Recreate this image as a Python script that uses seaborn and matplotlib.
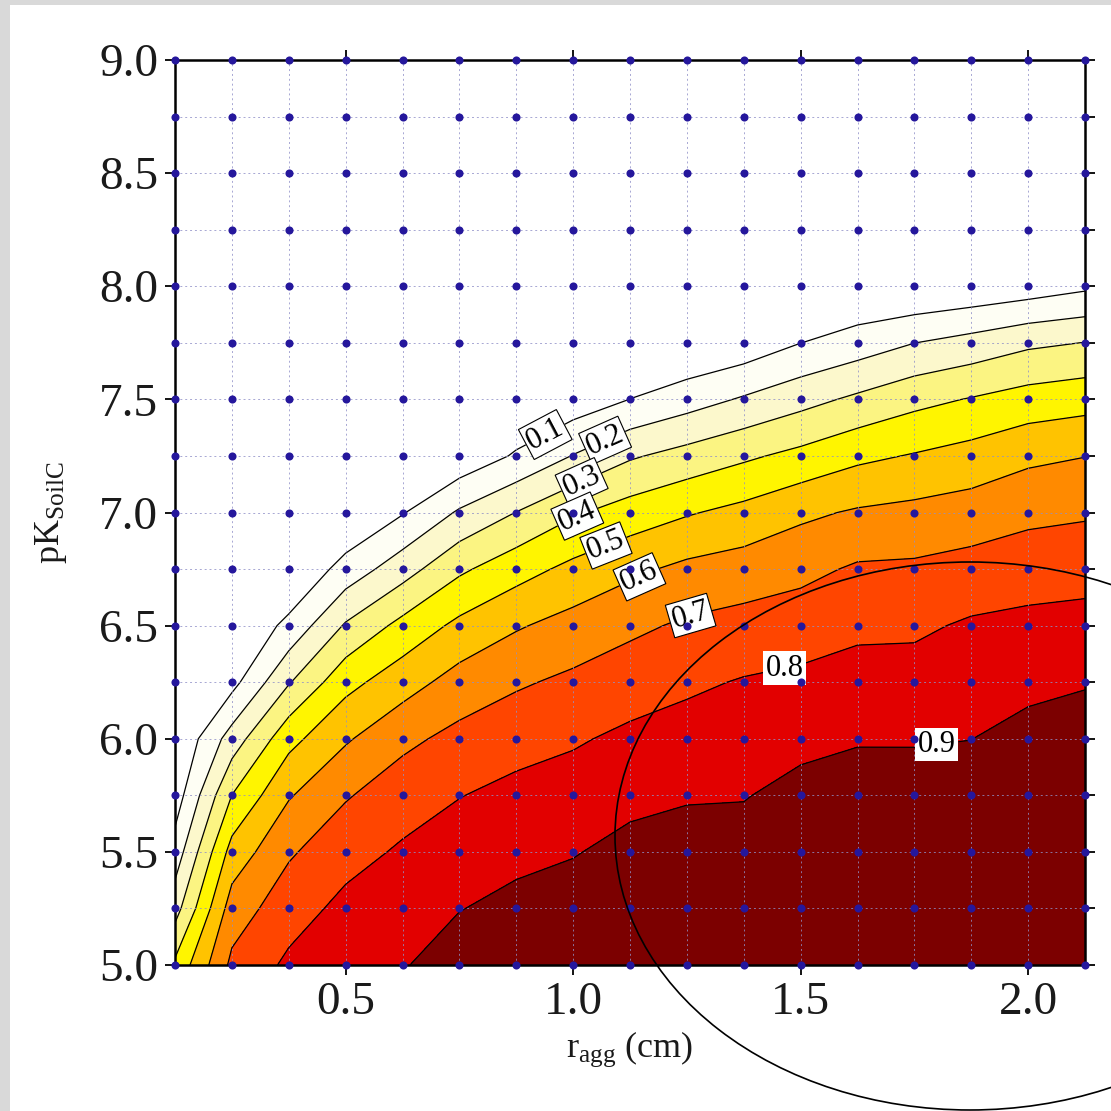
import numpy as np
import matplotlib
matplotlib.use("Agg")
import matplotlib.pyplot as plt
import seaborn as sns
from matplotlib.patches import Ellipse, Rectangle

# ---------------- data ----------------
r_agg = [0.125, 0.25, 0.375, 0.5, 0.625, 0.75, 0.875, 1.0, 1.125,
         1.25, 1.375, 1.5, 1.625, 1.75, 1.875, 2.0, 2.125]
pk_soilc = [5.0, 5.25, 5.5, 5.75, 6.0, 6.25, 6.5, 6.75, 7.0,
            7.25, 7.5, 7.75, 8.0, 8.25, 8.5, 8.75, 9.0]

# value at each grid point, one list per r_agg column, from pK=5.0 up to 9.0
frac_r0125 = [0.420, 0.259, 0.142, 0.047, 0.0, 0.0, 0.0, 0.0, 0.0, 0.0, 0.0, 0.0, 0.0, 0.0, 0.0, 0.0, 0.0]
frac_r0250 = [0.723, 0.647, 0.538, 0.401, 0.244, 0.067, 0.0, 0.0, 0.0, 0.0, 0.0, 0.0, 0.0, 0.0, 0.0, 0.0, 0.0]
frac_r0375 = [0.819, 0.757, 0.687, 0.591, 0.468, 0.292, 0.126, 0.0, 0.0, 0.0, 0.0, 0.0, 0.0, 0.0, 0.0, 0.0, 0.0]
frac_r0500 = [0.877, 0.826, 0.765, 0.691, 0.588, 0.468, 0.311, 0.139, 0.0, 0.0, 0.0, 0.0, 0.0, 0.0, 0.0, 0.0, 0.0]
frac_r0625 = [0.893, 0.853, 0.813, 0.755, 0.676, 0.557, 0.430, 0.256, 0.093, 0.0, 0.0, 0.0, 0.0, 0.0, 0.0, 0.0, 0.0]
frac_r0750 = [0.946, 0.897, 0.847, 0.797, 0.729, 0.640, 0.524, 0.382, 0.213, 0.027, 0.0, 0.0, 0.0, 0.0, 0.0, 0.0, 0.0]
frac_r0875 = [0.974, 0.925, 0.876, 0.826, 0.765, 0.687, 0.590, 0.460, 0.302, 0.112, 0.0, 0.0, 0.0, 0.0, 0.0, 0.0, 0.0]
frac_r1000 = [0.997, 0.946, 0.894, 0.843, 0.789, 0.721, 0.636, 0.526, 0.387, 0.204, 0.041, 0.0, 0.0, 0.0, 0.0, 0.0, 0.0]
frac_r1125 = [1.0, 0.983, 0.929, 0.874, 0.820, 0.755, 0.679, 0.579, 0.444, 0.288, 0.101, 0.0, 0.0, 0.0, 0.0, 0.0, 0.0]
frac_r1250 = [1.0, 0.995, 0.943, 0.891, 0.839, 0.783, 0.715, 0.623, 0.491, 0.336, 0.155, 0.0, 0.0, 0.0, 0.0, 0.0, 0.0]
frac_r1375 = [1.0, 0.982, 0.939, 0.895, 0.851, 0.807, 0.735, 0.646, 0.529, 0.383, 0.211, 0.034, 0.0, 0.0, 0.0, 0.0, 0.0]
frac_r1500 = [1.0, 1.0, 0.983, 0.929, 0.875, 0.821, 0.753, 0.673, 0.580, 0.427, 0.266, 0.099, 0.0, 0.0, 0.0, 0.0, 0.0]
frac_r1625 = [1.0, 1.0, 1.0, 0.946, 0.892, 0.838, 0.780, 0.713, 0.611, 0.478, 0.319, 0.146, 0.0, 0.0, 0.0, 0.0, 0.0]
frac_r1750 = [1.0, 1.0, 0.998, 0.945, 0.892, 0.839, 0.783, 0.717, 0.627, 0.507, 0.371, 0.199, 0.0, 0.0, 0.0, 0.0, 0.0]
frac_r1875 = [1.0, 1.0, 0.985, 0.942, 0.899, 0.856, 0.813, 0.736, 0.646, 0.537, 0.406, 0.236, 0.020, 0.0, 0.0, 0.0, 0.0]
frac_r2000 = [1.0, 1.0, 1.0, 0.983, 0.930, 0.877, 0.824, 0.757, 0.675, 0.579, 0.441, 0.281, 0.045, 0.0, 0.0, 0.0, 0.0]
frac_r2125 = [1.0, 1.0, 1.0, 1.0, 0.951, 0.892, 0.832, 0.765, 0.688, 0.598, 0.461, 0.302, 0.081, 0.0, 0.0, 0.0, 0.0]

line_levels = [0.1, 0.2, 0.3, 0.4, 0.5, 0.6, 0.7, 0.8, 0.9]
fill_levels = [0.0, 0.1, 0.2, 0.3, 0.4, 0.5, 0.6, 0.7, 0.8, 0.9, 1.01]
band_colors = ['#ffffff', '#fefef4', '#fcf8cc', '#fbf482', '#fff500',
               '#ffc300', '#ff8a00', '#ff4500', '#e20000', '#7c0000']
# approximate label spots (r_agg, pK)
label_x = [0.94, 1.07, 1.02, 1.01, 1.075, 1.147, 1.257, 1.46, 1.80]
label_y = [7.34, 7.32, 7.13, 6.98, 6.84, 6.71, 6.556, 6.36, 5.96]

x_ticks = [0.5, 1.0, 1.5, 2.0]
x_tick_labels = ['0.5', '1.0', '1.5', '2.0']
y_ticks = [5.0, 5.5, 6.0, 6.5, 7.0, 7.5, 8.0, 8.5, 9.0]
y_tick_labels = ['5.0', '5.5', '6.0', '6.5', '7.0', '7.5', '8.0', '8.5', '9.0']

# ---------------- style ----------------
sns.set_theme(style="white")
plt.rcParams['font.family'] = ['Liberation Serif', 'DejaVu Serif']
plt.rcParams['mathtext.fontset'] = 'custom'
plt.rcParams['mathtext.rm'] = 'Liberation Serif'
plt.rcParams['mathtext.it'] = 'Liberation Serif:italic'

W = 1111.0
fig = plt.figure(figsize=(11.11, 11.11), dpi=100)
fig.patch.set_facecolor('#d9d9d9')
fig.add_artist(Rectangle((10 / W, 0), 1, 1 - 5 / W, transform=fig.transFigure,
                         facecolor='white', edgecolor='none', zorder=-5))

ax = fig.add_axes([175 / W, 1 - 965 / W, 910 / W, 905 / W])
ax.set_facecolor('white')

Z = np.array([frac_r0125, frac_r0250, frac_r0375, frac_r0500, frac_r0625,
              frac_r0750, frac_r0875, frac_r1000, frac_r1125, frac_r1250,
              frac_r1375, frac_r1500, frac_r1625, frac_r1750, frac_r1875,
              frac_r2000, frac_r2125]).T

ax.contourf(r_agg, pk_soilc, Z, levels=fill_levels, colors=band_colors, zorder=1)

label_texts = []
for lev, lx, ly in zip(line_levels, label_x, label_y):
    cs_k = ax.contour(r_agg, pk_soilc, Z, levels=[lev], colors='black',
                      linewidths=0.9, zorder=2)
    txts = ax.clabel(cs_k, manual=[(lx, ly)], inline=True,
                     inline_spacing=3, fmt='%.1f', fontsize=22)
    label_texts.extend(list(txts))

for t in label_texts:
    val = float(t.get_text())
    if val >= 0.75:
        t.set_rotation(0)
        t.set_bbox(dict(boxstyle='square,pad=0.08', facecolor='white',
                        edgecolor='none'))
    else:
        t.set_bbox(dict(boxstyle='square,pad=0.08', facecolor='white',
                        edgecolor='black', linewidth=0.8))

# grid dots
gx, gy = np.meshgrid(r_agg, pk_soilc)
sns.scatterplot(x=gx.ravel(), y=gy.ravel(), ax=ax, color='#25179c', s=34,
                linewidth=0, zorder=6, clip_on=False, legend=False)

ax.set_xlim(r_agg[0], r_agg[-1])
ax.set_ylim(pk_soilc[0], pk_soilc[-1])
ax.set_xticks(x_ticks)
ax.set_xticklabels(x_tick_labels)
ax.set_yticks(y_ticks)
ax.set_yticklabels(y_tick_labels)
ax.set_xticks(r_agg, minor=True)
ax.set_yticks(pk_soilc, minor=True)
ax.set_axisbelow(False)
ax.grid(True, which='both', color='#9090c8', linestyle=(0, (2, 3)), linewidth=0.7, alpha=0.8)
ax.tick_params(axis='x', which='minor', length=0)
ax.tick_params(axis='y', which='minor', left=False, right=True, direction='out',
               length=7, width=1.3, color='black')
ax.tick_params(which='major', direction='out', length=7, width=1.3, color='black',
               top=True, right=True, bottom=True, left=True,
               labelsize=34, pad=5, labelcolor='#1a1a1a')
for s in ax.spines.values():
    s.set_visible(True)
    s.set_color('black')
    s.set_linewidth(1.8)
    s.set_zorder(5)

ax.set_xlabel(r'$\mathregular{r_{agg}}$ (cm)', fontsize=26, labelpad=4, color='#1a1a1a')
ax.set_ylabel(r'$\mathregular{pK_{SoilC}}$', fontsize=26, labelpad=22, color='#1a1a1a')

# hand-drawn ellipse annotation
fig.add_artist(Ellipse((970 / W, 1 - 836 / W), 710 / W, 548 / W,
                       transform=fig.transFigure, fill=False,
                       edgecolor='black', linewidth=1.2, zorder=20))

fig.savefig('out.png', dpi=100)
